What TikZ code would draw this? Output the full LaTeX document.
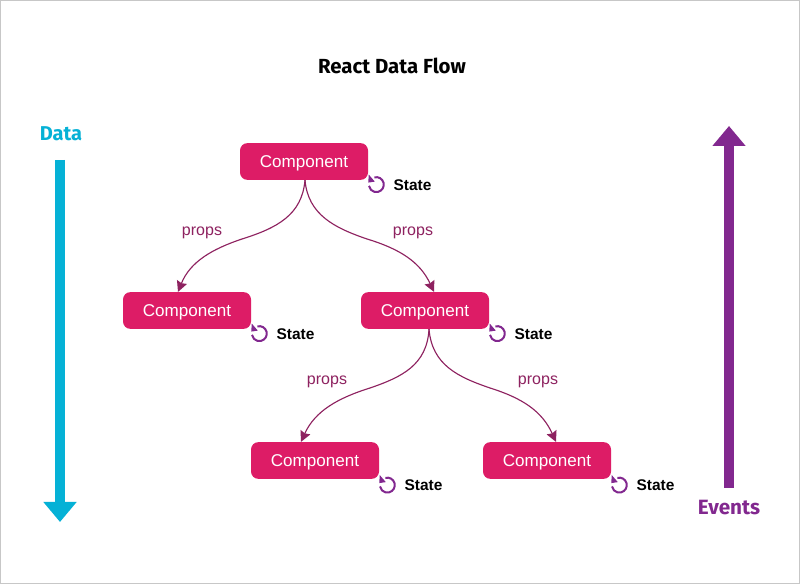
\documentclass[tikz,border=0pt]{standalone}
\usepackage{fontspec}
\setmainfont{Liberation Sans}
\newfontfamily\headfont{Fira Sans}
\usetikzlibrary{positioning,arrows.meta}
\definecolor{comppink}{HTML}{DD1C66}
\definecolor{linkplum}{HTML}{8E2260}
\definecolor{datablue}{HTML}{05B1D6}
\definecolor{eventpurple}{HTML}{82288F}
\tikzset{
  compbox/.style={fill=comppink,rounded corners=5.5pt,minimum width=96pt,minimum height=27.5pt,text=white,font=\fontsize{12.8}{14}\selectfont,inner sep=0pt,text depth=0pt},
  statetxt/.style={font=\fontsize{11.6}{12}\selectfont\bfseries,inner sep=0pt,anchor=base west},
  propstxt/.style={text=linkplum,font=\fontsize{12}{12}\selectfont,inner sep=0pt,anchor=base},
  headtxt/.style={font=\headfont\fontsize{#1}{18}\selectfont\bfseries,inner sep=0pt},
  flowline/.style={draw=linkplum,line width=0.85pt,-{Stealth[length=8pt,width=8pt,inset=1pt]}},
  bigarrow/.style={line width=7.5pt,-{Triangle[length=15pt,width=24pt]}},
}
% one component with its state mark at the lower right
\newcommand{\compstate}[4][0]{
  \node[compbox] (#2) at (#3,#4) {Component};
  \coordinate (#2mark) at ([shift={(8,4.5+#1)}]#2.south east);
  \draw[eventpurple,line width=1.5pt] ([shift={(-1.9,-7.2)}]#2mark) arc[start angle=105,end angle=-170,radius=5.6pt];
  \fill[eventpurple] ([shift={(-7.5,-10)}]#2mark) -- ++(6,7) -- ++(-6.5,1) -- cycle;
  \node[statetxt] (#2state) at ([shift={(25,10.3+#1)}]#2.south east) {State};
}
\begin{document}
\begin{tikzpicture}[x=0.75pt,y=-0.75pt]
  \draw[black!22,line width=0.75pt,fill=white] (0.5,0.5) rectangle (799.5,583.5);
  \node[headtxt=15.3] (title) at (392,66) {React Data Flow};
  \compstate{top}{304}{161.5}
  \compstate{left}{187}{310.5}
  \compstate{mid}{425}{310.5}
  \compstate[1.5]{low}{315}{460.5}
  \compstate[1.5]{right}{547}{460.5}
  % props going down, each curve in two parts
  \draw[flowline] ([shift={(1,0)}]top.south) .. controls (302,215) and (277,228) .. (242,239) .. controls (212,249) and (190,262) .. ([shift={(-9,0)}]left.north);
  \draw[flowline] ([shift={(1,0)}]top.south) .. controls (308,215) and (335,228) .. (367,239) .. controls (400,249) and (420,262) .. ([shift={(9,0)}]mid.north);
  \draw[flowline] ([shift={(4,0)}]mid.south) .. controls (427,365) and (402,377) .. (370,388) .. controls (338,398) and (315,411) .. ([shift={(-14,0)}]low.north);
  \draw[flowline] ([shift={(4,0)}]mid.south) .. controls (432,365) and (458,377) .. (490,388) .. controls (522,398) and (542,411) .. ([shift={(9,0)}]right.north);
  \node[propstxt] (p1) at (202,236) {props};
  \node[propstxt] (p2) at (413,236) {props};
  \node[propstxt] (p3) at (327,385) {props};
  \node[propstxt] (p4) at (538,385) {props};
  \node[text=datablue,headtxt=15] (data) at (61,133.5) {Data};
  \node[text=eventpurple,headtxt=15.5] (events) at (729,507.5) {Events};
  \coordinate (datatop) at (60,160);
  \coordinate (dataend) at (60,522);
  \coordinate (evbot) at (729,488);
  \coordinate (evend) at (729,126);
  \draw[datablue,bigarrow] (datatop) -- (dataend);
  \draw[eventpurple,bigarrow] (evbot) -- (evend);
\end{tikzpicture}
\end{document}
